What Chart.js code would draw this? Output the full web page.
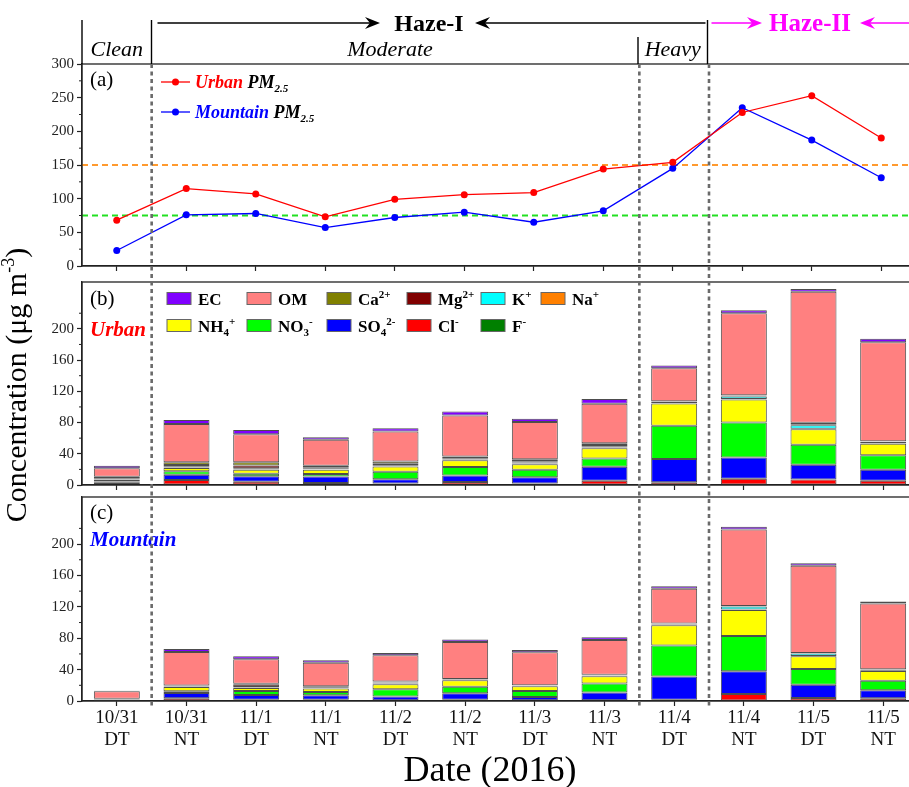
<!DOCTYPE html>
<html>
<head>
<meta charset="utf-8">
<script src="https://cdn.jsdelivr.net/npm/chart.js@4.4.1/dist/chart.umd.min.js"></script>
<style>
html, body { margin: 0; padding: 0; background: #fff; overflow: hidden; width: 909px; height: 787px; }
canvas { position: absolute; left: 0; top: 0; }
</style>
</head>
<body>
<canvas id="pm" width="920" height="787"></canvas>
<canvas id="urban" width="920" height="787"></canvas>
<canvas id="mountain" width="920" height="787"></canvas>
<script>
// categories
const dates   = ['10/31', '10/31', '11/1', '11/1', '11/2', '11/2', '11/3', '11/3', '11/4', '11/4', '11/5', '11/5'];
const periods = ['DT', 'NT', 'DT', 'NT', 'DT', 'NT', 'DT', 'NT', 'DT', 'NT', 'DT', 'NT'];

// panel (a) PM2.5, ug m-3
const urbanPM    = [68, 115, 107, 73, 99, 106, 109, 144, 154, 228, 253, 190];
const mountainPM = [23, 76, 78, 57, 72, 80, 65, 82, 145, 235, 187, 131];
const guideLevels = [150, 75];

// panel (b) urban components
const urbanCl  = [1.0, 6.4, 4.3, 2.5, 2.0, 3.8, 2.0, 5.5, 3.4, 8.1, 7.2, 5.5];
const urbanSO4 = [2.0, 6.8, 6.8, 8.5, 5.5, 8.5, 8.0, 17.9, 29.8, 27.2, 18.7, 14.0];
const urbanNO3 = [1.5, 4.3, 3.4, 3.0, 9.4, 10.6, 9.4, 10.6, 42.6, 44.7, 25.5, 18.7];
const urbanNH4 = [2.5, 4.3, 5.1, 5.5, 6.8, 8.9, 7.2, 13.2, 28.5, 29.4, 20.0, 14.5];
const urbanF   = [0.3, 0.3, 0.5, 0.4, 0.4, 0.4, 0.8, 0.5, 0.5, 0.3, 0.3, 0.3];
const urbanNa  = [0.3, 0.4, 0.5, 0.4, 0.4, 0.4, 0.4, 0.5, 0.3, 0.4, 0.4, 0.3];
const urbanK   = [0.5, 1.0, 1.0, 1.0, 1.0, 1.0, 1.0, 1.5, 1.2, 3.2, 4.5, 2.0];
const urbanMg  = [1.0, 2.0, 3.4, 1.4, 1.7, 1.0, 1.5, 1.5, 0.5, 1.0, 1.2, 0.3];
const urbanCa  = [1.5, 3.5, 4.0, 2.0, 3.0, 2.0, 2.7, 2.4, 0.5, 0.6, 1.8, 0.3];
const urbanOM  = [11.0, 49.0, 36.0, 33.3, 38.3, 52.4, 47.7, 50.4, 42.2, 105.0, 168.0, 126.9];
const urbanEC  = [3.0, 5.4, 5.6, 3.3, 4.3, 5.0, 4.1, 6.0, 3.4, 3.8, 3.4, 4.4];

// panel (c) mountain components
const mountainCl  = [0.3, 3.4, 1.7, 1.7, 0.9, 1.7, 0.9, 0.9, 1.7, 8.9, 3.8, 3.4];
const mountainSO4 = [1.5, 6.8, 6.0, 5.5, 4.7, 8.1, 4.3, 9.8, 29.4, 28.9, 17.0, 10.2];
const mountainNO3 = [0.3, 2.1, 5.1, 4.3, 9.4, 8.5, 7.7, 11.5, 39.6, 45.1, 20.0, 12.3];
const mountainNH4 = [0.3, 5.5, 3.8, 4.3, 6.4, 8.1, 6.0, 9.4, 26.0, 33.2, 16.2, 12.3];
const mountainF   = [0.1, 0.2, 0.5, 0.5, 1.0, 0.3, 0.3, 0.5, 0.8, 0.2, 0.2, 0.2];
const mountainNa  = [0.1, 0.2, 0.3, 0.3, 0.3, 0.2, 0.2, 0.3, 0.2, 0.2, 0.3, 0.2];
const mountainK   = [0.1, 0.4, 0.5, 0.4, 0.5, 0.4, 0.2, 0.5, 0.4, 4.0, 3.0, 1.5];
const mountainMg  = [0.2, 0.5, 2.7, 1.0, 0.8, 0.4, 0.2, 0.4, 0.3, 0.2, 0.4, 0.2];
const mountainCa  = [0.1, 0.5, 1.5, 0.7, 0.7, 0.4, 0.2, 0.3, 0.3, 0.3, 0.4, 0.1];
const mountainOM  = [9.3, 43.0, 31.1, 30.2, 33.6, 47.2, 42.1, 44.3, 44.3, 97.7, 111.0, 83.9];
const mountainEC  = [0.9, 3.8, 3.8, 3.0, 3.0, 3.0, 3.0, 3.4, 3.4, 3.4, 3.4, 2.5];

const labels = dates.map((d, i) => [d, periods[i]]);

const SERIF = 'Liberation Serif';
const f = (size, style) => (style || '') + ' ' + size + 'px "' + SERIF + '"';

// stack order bottom -> top
const components = [
    { name: 'Cl-',   color: '#ff0000', urban: urbanCl,  mountain: mountainCl },
    { name: 'SO42-', color: '#0000ff', urban: urbanSO4, mountain: mountainSO4 },
    { name: 'NO3-',  color: '#00ff00', urban: urbanNO3, mountain: mountainNO3 },
    { name: 'NH4+',  color: '#ffff00', urban: urbanNH4, mountain: mountainNH4 },
    { name: 'F-',    color: '#008000', urban: urbanF,   mountain: mountainF },
    { name: 'Na+',   color: '#ff8000', urban: urbanNa,  mountain: mountainNa },
    { name: 'K+',    color: '#00ffff', urban: urbanK,   mountain: mountainK },
    { name: 'Mg2+',  color: '#800000', urban: urbanMg,  mountain: mountainMg },
    { name: 'Ca2+',  color: '#808000', urban: urbanCa,  mountain: mountainCa },
    { name: 'OM',    color: '#ff8080', urban: urbanOM,  mountain: mountainOM },
    { name: 'EC',    color: '#8000ff', urban: urbanEC,  mountain: mountainEC }
];

// text with sub/superscripts: parts = [text, font, color, dy]
function drawRich(ctx, x, y, parts, align) {
    ctx.save();
    ctx.textBaseline = 'alphabetic';
    let w = 0;
    for (const p of parts) { ctx.font = p[1]; w += ctx.measureText(p[0]).width; }
    let cx = align === 'center' ? x - w / 2 : x;
    for (const p of parts) {
        ctx.font = p[1];
        ctx.fillStyle = p[2] || '#000';
        ctx.fillText(p[0], cx, y + (p[3] || 0));
        cx += ctx.measureText(p[0]).width;
    }
    ctx.restore();
}

function arrow(ctx, x1, x2, y, color) {
    const dir = Math.sign(x2 - x1);
    ctx.strokeStyle = color; ctx.fillStyle = color; ctx.lineWidth = 1.6;
    ctx.beginPath(); ctx.moveTo(x1, y); ctx.lineTo(x2 - dir * 8, y); ctx.stroke();
    ctx.beginPath();
    ctx.moveTo(x2, y);
    ctx.lineTo(x2 - dir * 15, y - 6);
    ctx.lineTo(x2 - dir * 10, y);
    ctx.lineTo(x2 - dir * 15, y + 6);
    ctx.closePath(); ctx.fill();
}

// pixel between two categories
function between(x, i) {
    return (x.getPixelForValue(i) + x.getPixelForValue(i + 1)) / 2;
}

// box around plot + minor y ticks
const framePlugin = {
    id: 'frame',
    afterDraw(chart, args, opts) {
        const { ctx, chartArea: a } = chart;
        const y = chart.scales.y;
        ctx.save();
        ctx.strokeStyle = '#222'; ctx.lineWidth = 1.3;
        ctx.strokeRect(a.left, a.top, a.right - a.left, a.bottom - a.top);
        ctx.lineWidth = 1;
        for (let v = opts.minor; v < y.max; v += opts.minor * 2) {
            const py = y.getPixelForValue(v);
            ctx.beginPath(); ctx.moveTo(a.left - 3, py); ctx.lineTo(a.left, py); ctx.stroke();
        }
        ctx.restore();
    }
};

// dashed guide lines at 150 and 75
const guidePlugin = {
    id: 'guides',
    beforeDatasetsDraw(chart) {
        const { ctx, chartArea: a } = chart;
        const y = chart.scales.y;
        const cols = ['#ff9a2e', '#22e022'];
        ctx.save();
        ctx.lineWidth = 1.8;
        ctx.setLineDash([6, 4]);
        guideLevels.forEach((v, i) => {
            const py = y.getPixelForValue(v);
            ctx.strokeStyle = cols[i];
            ctx.beginPath(); ctx.moveTo(a.left, py); ctx.lineTo(a.right, py); ctx.stroke();
        });
        ctx.restore();
    }
};

// header above panel (a), legend of panel (a)
const headerPlugin = {
    id: 'header',
    afterDraw(chart) {
        const { ctx, chartArea: a } = chart;
        const x = chart.scales.x;
        const b0 = a.left, b1 = between(x, 0), b8 = between(x, 7), b9 = between(x, 8);
        ctx.save();
        ctx.strokeStyle = '#000'; ctx.lineWidth = 1.4;
        [[b0, 20], [b1, 20], [b8, 37], [b9, 20]].forEach(([px, top]) => {
            ctx.beginPath(); ctx.moveTo(px, top); ctx.lineTo(px, a.top); ctx.stroke();
        });
        arrow(ctx, b1 + 6, 380, 23, '#000');
        arrow(ctx, b9 - 2, 475, 23, '#000');
        drawRich(ctx, 429, 31, [['Haze-I', f(24, 'bold')]], 'center');
        arrow(ctx, b9 + 4, 762, 23, '#ff00ff');
        drawRich(ctx, 810, 31, [['Haze-II', f(25, 'bold'), '#ff00ff']], 'center');
        arrow(ctx, 930, 860, 23, '#ff00ff');
        drawRich(ctx, (b0 + b1) / 2, 56, [['Clean', f(22, 'italic')]], 'center');
        drawRich(ctx, 390, 56, [['Moderate', f(22, 'italic')]], 'center');
        drawRich(ctx, (b8 + b9) / 2, 56, [['Heavy', f(22, 'italic')]], 'center');

        // panel (a) legend
        drawRich(ctx, 90, 86, [['(a)', f(21)]]);
        const rows = [
            { y: 82, color: '#ff0000', name: 'Urban' },
            { y: 112, color: '#0000ff', name: 'Mountain' }
        ];
        rows.forEach(r => {
            ctx.strokeStyle = r.color; ctx.fillStyle = r.color; ctx.lineWidth = 1.3;
            ctx.beginPath(); ctx.moveTo(161, r.y); ctx.lineTo(190, r.y); ctx.stroke();
            ctx.beginPath(); ctx.arc(175.5, r.y, 3.5, 0, Math.PI * 2); ctx.fill();
            drawRich(ctx, 195, r.y + 6, [
                [r.name + ' ', f(18, 'italic bold'), r.color],
                ['PM', f(18, 'italic bold')],
                ['2.5', f(11, 'italic bold'), '#000', 4]
            ]);
        });
        ctx.restore();
    }
};

// legend of component colours in panel (b)
const legendParts = {
    'EC':    [['EC']],
    'OM':    [['OM']],
    'Ca2+':  [['Ca'], ['2+', 1]],
    'Mg2+':  [['Mg'], ['2+', 1]],
    'K+':    [['K'], ['+', 1]],
    'Na+':   [['Na'], ['+', 1]],
    'NH4+':  [['NH'], ['4', -1], ['+', 1]],
    'NO3-':  [['NO'], ['3', -1], ['-', 1]],
    'SO42-': [['SO'], ['4', -1], ['2-', 1]],
    'Cl-':   [['Cl'], ['-', 1]],
    'F-':    [['F'], ['-', 1]]
};
const legendSlots = [
    ['EC', 167, 0], ['OM', 247, 0], ['Ca2+', 327, 0], ['Mg2+', 407, 0], ['K+', 481, 0], ['Na+', 541, 0],
    ['NH4+', 167, 1], ['NO3-', 247, 1], ['SO42-', 327, 1], ['Cl-', 407, 1], ['F-', 481, 1]
];
const urbanLabelPlugin = {
    id: 'urbanLabel',
    afterDraw(chart) {
        const { ctx } = chart;
        drawRich(ctx, 90, 305, [['(b)', f(21)]]);
        drawRich(ctx, 90, 336, [['Urban', f(21, 'italic bold'), '#ff0000']]);
        const rowY = [298.5, 325.5];
        ctx.save();
        legendSlots.forEach(([name, lx, row]) => {
            const comp = components.find(c => c.name === name);
            const cy = rowY[row];
            ctx.fillStyle = comp.color;
            ctx.fillRect(lx, cy - 6, 24, 12);
            ctx.strokeStyle = '#666'; ctx.lineWidth = 1;
            ctx.strokeRect(lx, cy - 6, 24, 12);
            const parts = legendParts[name].map(p => {
                if (!p[1]) return [p[0], f(17, 'bold')];
                return [p[0], f(11, 'bold'), '#000', p[1] > 0 ? -7 : 4];
            });
            drawRich(ctx, lx + 31, cy + 6, parts);
        });
        ctx.restore();
        // y title, shared by the three panels
        ctx.save();
        ctx.translate(26, 385);
        ctx.rotate(-Math.PI / 2);
        drawRich(ctx, 0, 0, [
            ['Concentration (\u03bcg m', f(30)],
            ['-3', f(18), '#000', -12],
            [')', f(30)]
        ], 'center');
        ctx.restore();
    }
};

const mountainLabelPlugin = {
    id: 'mountainLabel',
    afterDraw(chart) {
        const { ctx, chartArea: a } = chart;
        const x = chart.scales.x;
        drawRich(ctx, 90, 519, [['(c)', f(21)]]);
        drawRich(ctx, 90, 546, [['Mountain', f(21, 'italic bold'), '#0000ff']]);
        drawRich(ctx, 490, 781, [['Date (2016)', f(36)]], 'center');
        // gray dashed separators through all panels
        ctx.save();
        ctx.strokeStyle = '#6a6a6a'; ctx.lineWidth = 2.6;
        ctx.setLineDash([4, 3.5]);
        [0, 7, 8].forEach(i => {
            const px = between(x, i);
            ctx.beginPath(); ctx.moveTo(px, 64); ctx.lineTo(px, a.bottom + 5); ctx.stroke();
        });
        ctx.restore();
    }
};

function yAxis(max, step) {
    return {
        min: 0, max: max,
        afterFit: s => { s.width = 82; },
        afterBuildTicks: s => { s.ticks = s.ticks.filter(t => t.value % step === 0); },
        ticks: { stepSize: step, color: '#222', font: { family: SERIF, size: 15 }, padding: 3 },
        grid: { drawOnChartArea: false, tickLength: 5, tickColor: '#222', tickWidth: 1.2 },
        border: { color: '#222', width: 1.3 }
    };
}

function xAxis(showLabels, stacked) {
    return {
        type: 'category',
        offset: true,
        stacked: stacked,
        afterFit: s => { s.height = showLabels ? 86 : 10; },
        grid: { offset: false, drawOnChartArea: false, tickLength: 5, tickColor: '#222', tickWidth: 1.2 },
        border: { color: '#222', width: 1.3 },
        ticks: {
            display: showLabels, autoSkip: false, maxRotation: 0, padding: 1, color: '#111',
            font: { family: SERIF, size: 19, lineHeight: 1.16 }
        }
    };
}

Chart.defaults.animation = false;
Chart.defaults.responsive = false;

new Chart(document.getElementById('pm'), {
    type: 'line',
    data: {
        labels: labels,
        datasets: [
            { label: 'Urban PM2.5', data: urbanPM, borderColor: '#ff0000', backgroundColor: '#ff0000',
              borderWidth: 1.3, pointRadius: 3.5, pointBorderWidth: 0, tension: 0 },
            { label: 'Mountain PM2.5', data: mountainPM, borderColor: '#0000ff', backgroundColor: '#0000ff',
              borderWidth: 1.3, pointRadius: 3.5, pointBorderWidth: 0, tension: 0 }
        ]
    },
    options: {
        layout: { padding: { top: 64, bottom: 511, left: 0, right: 2 } },
        scales: { x: xAxis(false, false), y: yAxis(300, 50) },
        plugins: { legend: { display: false }, tooltip: { enabled: false }, frame: { minor: 25 } }
    },
    plugins: [guidePlugin, framePlugin, headerPlugin]
});

function barSets(site) {
    return components.map(c => ({
        label: c.name,
        data: c[site],
        backgroundColor: c.color,
        borderColor: '#4d4d4d',
        borderWidth: 1,
        borderSkipped: false,
        barPercentage: 0.66,
        categoryPercentage: 1.0
    }));
}

new Chart(document.getElementById('urban'), {
    type: 'bar',
    data: { labels: labels, datasets: barSets('urban') },
    options: {
        layout: { padding: { top: 282, bottom: 292, left: 0, right: 2 } },
        scales: { x: xAxis(false, true), y: Object.assign(yAxis(260, 40), { stacked: true }) },
        plugins: { legend: { display: false }, tooltip: { enabled: false }, frame: { minor: 20 } }
    },
    plugins: [framePlugin, urbanLabelPlugin]
});

new Chart(document.getElementById('mountain'), {
    type: 'bar',
    data: { labels: labels, datasets: barSets('mountain') },
    options: {
        layout: { padding: { top: 497, bottom: 0, left: 0, right: 2 } },
        scales: { x: xAxis(true, true), y: Object.assign(yAxis(260, 40), { stacked: true }) },
        plugins: { legend: { display: false }, tooltip: { enabled: false }, frame: { minor: 20 } }
    },
    plugins: [framePlugin, mountainLabelPlugin]
});
</script>
</body>
</html>
